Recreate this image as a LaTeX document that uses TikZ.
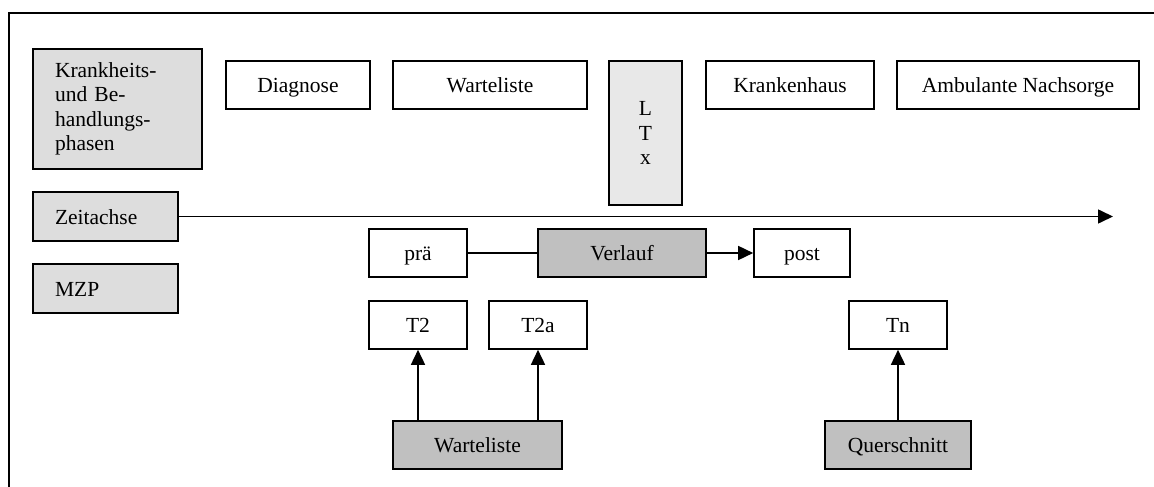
\documentclass[tikz,border=0pt]{standalone}
\usepackage{fontspec}
\setmainfont{Liberation Serif}
\usetikzlibrary{arrows.meta}
\definecolor{lightg}{HTML}{DDDDDD}
\definecolor{paleg}{HTML}{E8E8E8}
\definecolor{midg}{HTML}{C0C0C0}
\begin{document}
\begin{tikzpicture}[x=1pt,y=-1pt,
  box/.style={draw=black, line width=1.6pt, fill=white, inner sep=0pt, font=\fontsize{21.5}{24.5}\selectfont},
  one/.style={text height=18pt, text depth=3pt},
  leftbox/.style={box, fill=lightg, align=left, inner xsep=22pt},
  darkbox/.style={box, one, fill=midg},
  arr/.style={line width=1.6pt, -{Triangle[length=15pt,width=14pt]}},
  ln/.style={line width=1.6pt}]
\useasboundingbox (0,0) rectangle (1154,487);
\draw[ln] (9,520) -- (9,13) -- (1180,13);
% left labels
\node[leftbox, text width=125pt, minimum height=120pt] (kb) at (117.5,109) {Krankheits-\\und Be-\\handlungs-\\phasen};
\node[leftbox, one, text width=101pt, minimum height=49pt] (za) at (105.5,216.5) {Zeitachse};
\node[leftbox, one, text width=101pt, minimum height=49pt] (mzp) at (105.5,288.5) {MZP};
% phases
\node[box, one, minimum width=144pt, minimum height=48pt] (dia) at (298,85) {Diagnose};
\node[box, one, minimum width=194pt, minimum height=48pt] (wl) at (490,85) {Warteliste};
\node[box, fill=paleg, minimum width=73pt, minimum height=144pt, align=center] (ltx) at (645.5,133) {L\\T\\x};
\node[box, one, minimum width=168pt, minimum height=48pt] (kh) at (790,85) {Krankenhaus};
\node[box, one, minimum width=242pt, minimum height=48pt] (amb) at (1018,85) {Ambulante Nachsorge};
% time axis
\coordinate (axend) at (1113,216.5);
\draw[arr] (za.east) -- (axend);
% second row
\node[box, one, minimum width=98pt, minimum height=48pt] (pre) at (418,253) {prä};
\node[darkbox, minimum width=168pt, minimum height=48pt] (ver) at (622,253) {Verlauf};
\node[box, one, minimum width=96pt, minimum height=48pt] (post) at (802,253) {post};
\draw[ln] (pre) -- (ver);
\draw[arr] (ver) -- (post);
% measurement points
\node[box, one, minimum width=98pt, minimum height=48pt] (t2) at (418,325) {T2};
\node[box, one, minimum width=98pt, minimum height=48pt] (t2a) at (538,325) {T2a};
\node[box, one, minimum width=98pt, minimum height=48pt] (tn) at (898,325) {Tn};
% designs
\node[darkbox, minimum width=169pt, minimum height=48pt] (wl2) at (477.5,445) {Warteliste};
\node[darkbox, minimum width=146pt, minimum height=48pt] (qs) at (898,445) {Querschnitt};
\draw[arr] (t2.south |- wl2.north) -- (t2.south);
\draw[arr] (t2a.south |- wl2.north) -- (t2a.south);
\draw[arr] (qs.north) -- (tn.south);
\end{tikzpicture}
\end{document}
